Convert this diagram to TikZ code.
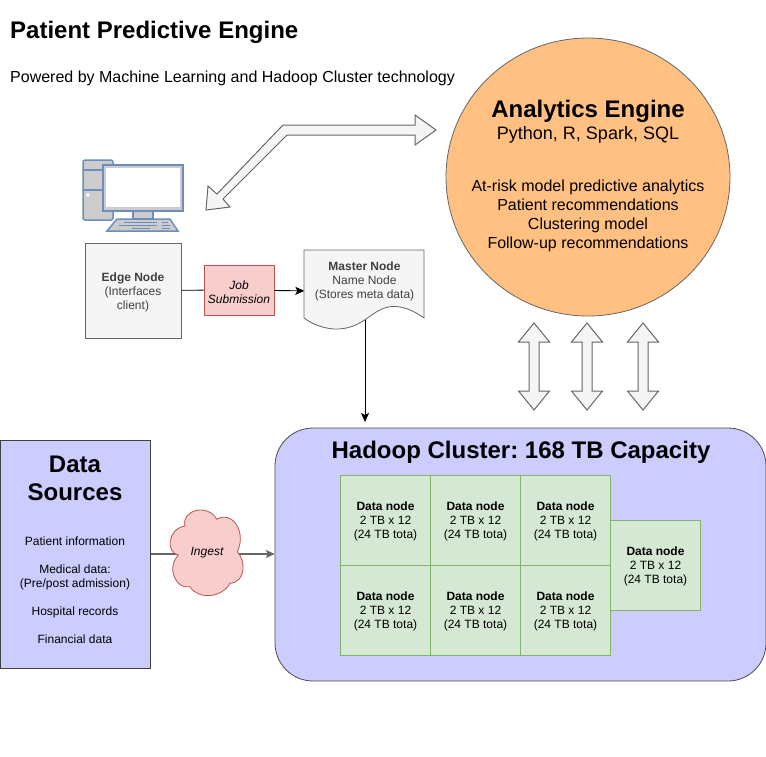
\documentclass[tikz,border=0pt]{standalone}
\usepackage{fontspec}
\setmainfont{Liberation Sans}
\usetikzlibrary{arrows.meta}
\definecolor{orangefill}{HTML}{FFC081}
\definecolor{bluefill}{HTML}{CCCCFF}
\definecolor{greenfill}{HTML}{D5E8D4}
\definecolor{greenline}{HTML}{82B366}
\definecolor{redfill}{HTML}{F8CECC}
\definecolor{redline}{HTML}{B85450}
\definecolor{grayfill}{HTML}{F5F5F5}
\definecolor{grayline}{HTML}{666666}
\definecolor{iconline}{HTML}{6C8EBF}
\definecolor{iconfill}{HTML}{CCCCCC}
\newcommand{\fs}[2]{\fontsize{#1}{#2}\selectfont}
\newcommand{\datatext}{\hspace*{1pt}\begin{tabular}{@{}c@{}}\\[-10pt]\textbf{Data node}\\2 TB x 12\\(24 TB tota)\end{tabular}}
\frenchspacing
\tikzset{
  datanode/.style={draw=greenline,fill=greenfill,minimum width=90,minimum height=90,font=\fs{12}{14},inner sep=0},
  fatarrow/.style={draw=grayline,fill=grayfill,line width=1,line join=miter},
  iconpart/.style={draw=iconline,fill=iconfill,line width=1.5},
  link/.style={draw=black,line width=.9},
  tip/.style={-{Stealth[length=9,width=8,inset=2]}},
}
\begin{document}
\begin{tikzpicture}[x=1pt,y=-1pt]
      \useasboundingbox(0,0)rectangle(766,756);
      % titles
      \node[anchor=west,inner sep=0,font=\fs{24}{28}\bfseries] (title) at (10,32) {Patient Predictive Engine};
      \node[anchor=west,inner sep=0,font=\fs{16}{19}] (subtitle) at (10,78) {Powered by Machine Learning and Hadoop Cluster technology};
      % analytics
      \filldraw[fill=orangefill,draw=grayline,line width=.8](588,177)ellipse(142 and 139);
      \node[inner sep=0,font=\fs{24}{28}\bfseries] (analytics) at (588,111) {Analytics Engine};
      \node[inner sep=0,font=\fs{18}{21}] (languages) at (588,135) {Python, R, Spark, SQL};
      \node[inner sep=0,align=center,font=\fs{16}{19}] (models) at (588,215.5) {At-risk model predictive analytics\\Patient recommendations\\Clustering model\\Follow-up recommendations};
      % arrow to the engine
      \filldraw[fatarrow](436,130)--(415,115)--(415,125)--(283,125)--(217,194)--(208,186)--(206,210)--(230,207)--(223,199)--(287,135)--(415,135)--(415,145)--cycle;
      % computer
      \begin{scope}[shift={(83,160)}]
        \filldraw[iconpart,rounded corners=2](0,0)rectangle(30,60);
        \draw[iconpart](0,10)--(30,10);
        \draw[iconpart](0,30)--(30,30);
        \fill[white](5,35)circle(1.8);
        \filldraw[iconpart](20,5)rectangle(100,51);
        \fill[white](22.500,8)rectangle(97,47);
        \filldraw[iconpart](50,51)rectangle(70,59);
        \filldraw[iconpart](24,71)--(34,59)--(87,59)--(95,71)--cycle;
        \draw[iconline,line width=1.6](41,62.5)--(74,62.5);
        \draw[iconline,line width=1.6](79,62.5)--(85,62.5);
        \draw[iconline,line width=1.6](36,65.5)--(74,65.5);
        \draw[iconline,line width=1.6](79,65.5)--(87,65.5);
        \draw[iconline,line width=1.6](49,68.5)--(67,68.5);
        \draw[iconline,line width=1.6](79,68.5)--(87,68.5);
      \end{scope}
      % job flow
      \node[draw=grayline,fill=grayfill,line width=.9,minimum width=96,minimum height=95,inner sep=0,align=center,font=\fs{12}{14},text=black!75] (edge) at (133,290.5) {\rule{0pt}{4pt}\\[-5pt]\textbf{Edge Node}\\(Interfaces\\client)};
      \node[draw=redline,fill=redfill,line width=.8,minimum width=70,minimum height=50,inner sep=0,align=center,font=\fs{12}{14}\itshape] (job) at (239,290) {\rule{0pt}{2pt}\\[-2pt]Job\\Submission};
      \filldraw[draw=grayline,fill=grayfill,line width=.8](304,250)--(424,250)--(424,318)..controls(410,308)and(398,305)..(388,307)..controls(370,311)and(362,330)..(334,329)..controls(322,328)and(312,324)..(304,318)--cycle;
      \node[minimum width=120,minimum height=80,inner sep=0,align=center,anchor=north,text depth=0,font=\fs{12}{14},text=black!75] (master) at (364.500,250) {\rule{0pt}{9pt}\\[-3pt]\textbf{Master Node}\\Name Node\\(Stores meta data)\\[21pt]\mbox{}};
      \draw[link](edge)--(job);
      \draw[link,tip](job)--(master);
      % hadoop
      \filldraw[fill=bluefill,draw=black!70,line width=.8,rounded corners=38](275,428)rectangle(766,681);
      \node[minimum width=491,minimum height=253,inner sep=0] (hadoop) at (520.5,554.5) {};
      \node[inner sep=0,font=\fs{24}{28}\bfseries] (hadooptitle) at (521,452) {Hadoop Cluster: 168 TB Capacity};
      \coordinate (masterout) at (365,320);
      \coordinate (hadoopin) at (365,422);
      \draw[link,tip](masterout)--(hadoopin);
      % data nodes
      \node[datanode] (dn1) at (385,520) {\datatext};
      \node[datanode] (dn2) at (475,520) {\datatext};
      \node[datanode] (dn3) at (565,520) {\datatext};
      \node[datanode] (dn4) at (385,610) {\datatext};
      \node[datanode] (dn5) at (475,610) {\datatext};
      \node[datanode] (dn6) at (565,610) {\datatext};
      \node[datanode] (dn7) at (655,565) {\datatext};
      % data sources
      \node[draw=black!75,fill=bluefill,line width=.9,minimum width=150,minimum height=228,inner sep=0,anchor=north west] (sources) at (0,440) {};
      \node[inner sep=0,align=center,font=\fs{24}{28}\bfseries] (sourcestitle) at (75,478) {Data\\Sources};
      \node[inner sep=0,align=center,font=\fs{12}{14}] (sourcelist) at (75,590) {Patient information\\[14pt]Medical data:\\(Pre/post admission)\\[14pt]Hospital records\\[14pt]Financial data};
      % ingest
      \node[minimum width=60,minimum height=60,inner sep=0] (ingest) at (207.5,554) {};
      \draw[draw=grayline,line width=1.1](sources.east|-ingest)--(ingest);
      \draw[draw=grayline,line width=1.1,tip](ingest)--(hadoop.west|-ingest);
      \filldraw[draw=redline,fill=redfill,line width=.8](185,526)..controls(181,510)and(208,503)..(216.7,519.3)..controls(232,510)and(247,532)..(237.3,551.7)..controls(246,561)and(246,582)..(230,583.3)..controls(222,598)and(198,600)..(190,586.7)..controls(176,590)and(166,568)..(178.3,555)..controls(166,553)and(167,529)..cycle;
      \node[inner sep=0,font=\fs{12}{14}\itshape] (ingesttext) at (207,553) {Ingest};
      % storage arrows
      \begin{scope}[shift={(534,323)}]
        \filldraw[fatarrow](0,0)--(15.5,19)--(5,19)--(5,68)--(15.5,68)--(0,87)--(-15.5,68)--(-5,68)--(-5,19)--(-15.5,19)--cycle;
      \end{scope}
      \begin{scope}[shift={(587,323)}]
        \filldraw[fatarrow](0,0)--(15.5,19)--(5,19)--(5,68)--(15.5,68)--(0,87)--(-15.5,68)--(-5,68)--(-5,19)--(-15.5,19)--cycle;
      \end{scope}
      \begin{scope}[shift={(643,323)}]
        \filldraw[fatarrow](0,0)--(15.5,19)--(5,19)--(5,68)--(15.5,68)--(0,87)--(-15.5,68)--(-5,68)--(-5,19)--(-15.5,19)--cycle;
      \end{scope}
    \end{tikzpicture}
\end{document}
